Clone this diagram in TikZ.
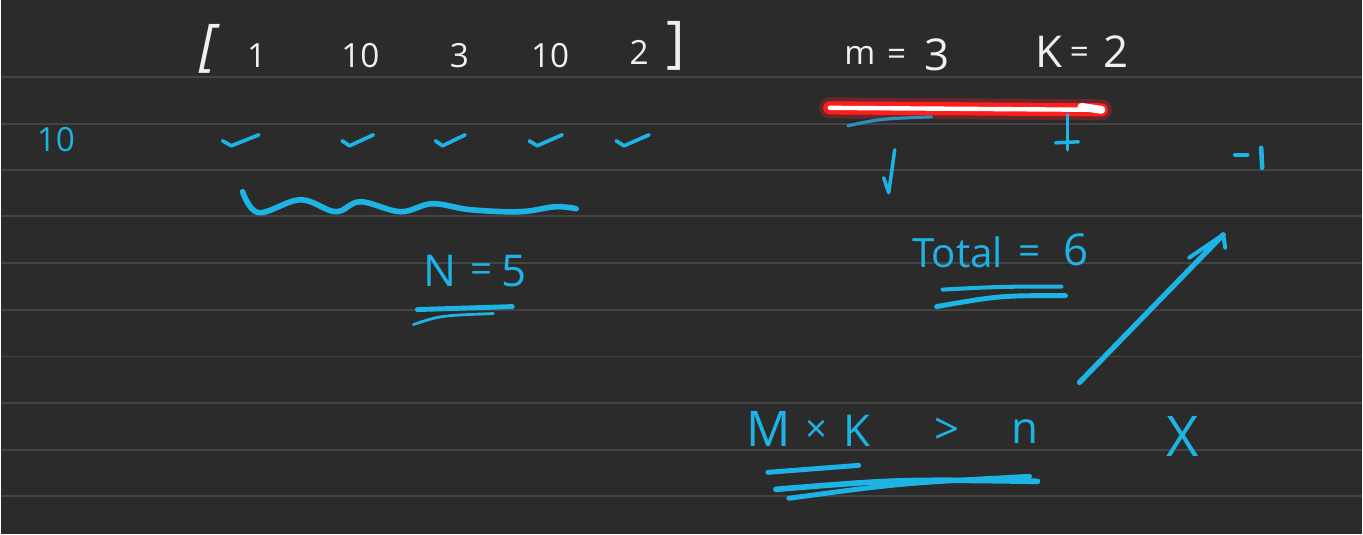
\documentclass[tikz,border=0pt]{standalone}
\usepackage{fontspec}
\setmainfont{Open Sans}
\usetikzlibrary{arrows.meta}
\definecolor{board}{HTML}{2B2B2B}
\definecolor{ruling}{HTML}{444444}
\definecolor{chalk}{HTML}{F0F0F0}
\definecolor{marker}{HTML}{1DB3E4}
\definecolor{pen}{HTML}{2C8FBF}
\definecolor{hilite}{HTML}{FF1E1E}

\begin{document}
\begin{tikzpicture}[
  x=0.02cm, y=-0.02cm,
  every node/.style={inner sep=0pt, font=\fontsize{19}{22}\selectfont},
  wtext/.style={text=chalk},
  btext/.style={text=marker, font=\fontsize{22}{26}\selectfont},
  big/.style={font=\fontsize{25}{28}\selectfont},
  stroke/.style={marker, line width=2.3pt, line cap=round, line join=round},
  fine/.style={marker, line width=1.3pt, line cap=round, line join=round},
]

% Board and ruling
\fill[board] (0,0) rectangle (1363,535);
\foreach \y in {77,124,170,216,263,310,357,404,451,497}
  \draw[ruling, line width=1.1pt] (0,\y) -- (1363,\y);

% Array
\node[wtext, font=\fontsize{32}{34}\selectfont\itshape] (lbr) at (207,49) {[};
\node[wtext] (a1) at (256,56) {1};
\node[wtext] (a2) at (360,56) {10};
\node[wtext] (a3) at (459,56) {3};
\node[wtext] (a4) at (550,56) {10};
\node[wtext] (a5) at (639,52) {2};
\node[wtext, font=\fontsize{32}{34}\selectfont] (rbr) at (676,46) {]};

% Parameters
\node[wtext] (m) at (860,55) {m};
\node[wtext] (meq) at (897,57) {=};
\node[wtext, big] (mval) at (937,55) {3};
\node[wtext, big] (k) at (1049,52) {K};
\node[wtext] (keq) at (1080,55) {=};
\node[wtext, big] (kval) at (1117,52) {2};

% Red highlight
\coordinate (hl1) at (830,108);
\coordinate (hl2) at (1102,110);
\draw[hilite, opacity=0.3, line width=12pt, line cap=round] (hl1) -- (hl2);
\draw[hilite, line width=7.5pt, line cap=round] (hl1) -- (hl2);
\draw[white, line width=2.5pt, line cap=round] (hl1) -- (hl2);
\draw[white, line width=4.5pt, line cap=round] (1082,107) -- (hl2);

% Pen marks under the highlight
\draw[pen, line width=1.8pt, line cap=round] (848,126) .. controls (880,119) .. (932,117);
\draw[fine, line width=2pt] (895,150) -- (889,193) -- (884,178);
\draw[fine, line width=2pt] (1068,115) -- (1068,150);
\draw[fine, line width=2pt] (1056,143) -- (1079,142);
\draw[stroke, line width=2.6pt] (1236,155) -- (1248,155);
\draw[stroke, line width=2.6pt] (1262,148) -- (1263,168);

% Left value
\node[btext, font=\fontsize{19}{22}\selectfont] (ten) at (55,140) {10};

% Check marks
\foreach \x/\s in {234/1.1, 352/0.95, 445/0.9, 540/1.0, 627/1.0}
  \draw[stroke, line width=2.1pt] (\x-11*\s,141) -- (\x-3*\s,146) -- (\x+22*\s,135);

% Wavy line
\draw[stroke, line width=3.2pt] plot[smooth, tension=0.6] coordinates {
  (242,192) (258,213) (300,200) (335,212) (360,202) (400,212) (432,204)
  (470,210) (520,212) (555,207) (576,209)};

% N = 5
\node[btext, big] (nsym) at (440,271) {N};
\node[btext] (neq) at (481,273) {=};
\node[btext, big] (nval) at (514,271) {5};
\draw[stroke, line width=2.8pt] (417,310) -- (512,307);
\draw[fine, line width=1.6pt] (413,325) .. controls (440,316) .. (493,314);

% Total = 6
\node[btext, font=\fontsize{23}{26}\selectfont] (total) at (958,253) {Total};
\node[btext] (teq) at (1030,255) {=};
\node[btext, big] (tval) at (1077,250) {6};
\draw[stroke] (943,290) .. controls (1000,287) .. (1062,287);
\draw[stroke, line width=2.8pt] (937,307) .. controls (1000,296) .. (1066,296);

% Long arrow
\coordinate (ar1) at (1080,383);
\coordinate (ar2) at (1224,235);
\draw[stroke, line width=3pt] (ar1) -- (ar2);
\draw[stroke] (1190,258) -- (ar2) -- (1226,248);

% Condition
\node[btext, font=\fontsize{28}{30}\selectfont] (msym) at (769,430) {M};
\node[btext] (times) at (817,432) {×};
\node[btext, big] (ksym) at (857,431) {K};
\node[btext, big] (gt) at (947,432) {>};
\node[btext, big] (nn) at (1025,432) {n};
\draw[stroke, line width=2.8pt] (768,473) -- (859,466);
\draw[stroke, line width=3.2pt] (776,490) .. controls (900,480) .. (1038,482);
\draw[stroke, line width=2.8pt] (789,499) .. controls (900,484) .. (1030,477);

% Cross
\node[btext, font=\fontsize{32}{34}\selectfont] (cross) at (1183,437) {X};

\end{tikzpicture}
\end{document}
